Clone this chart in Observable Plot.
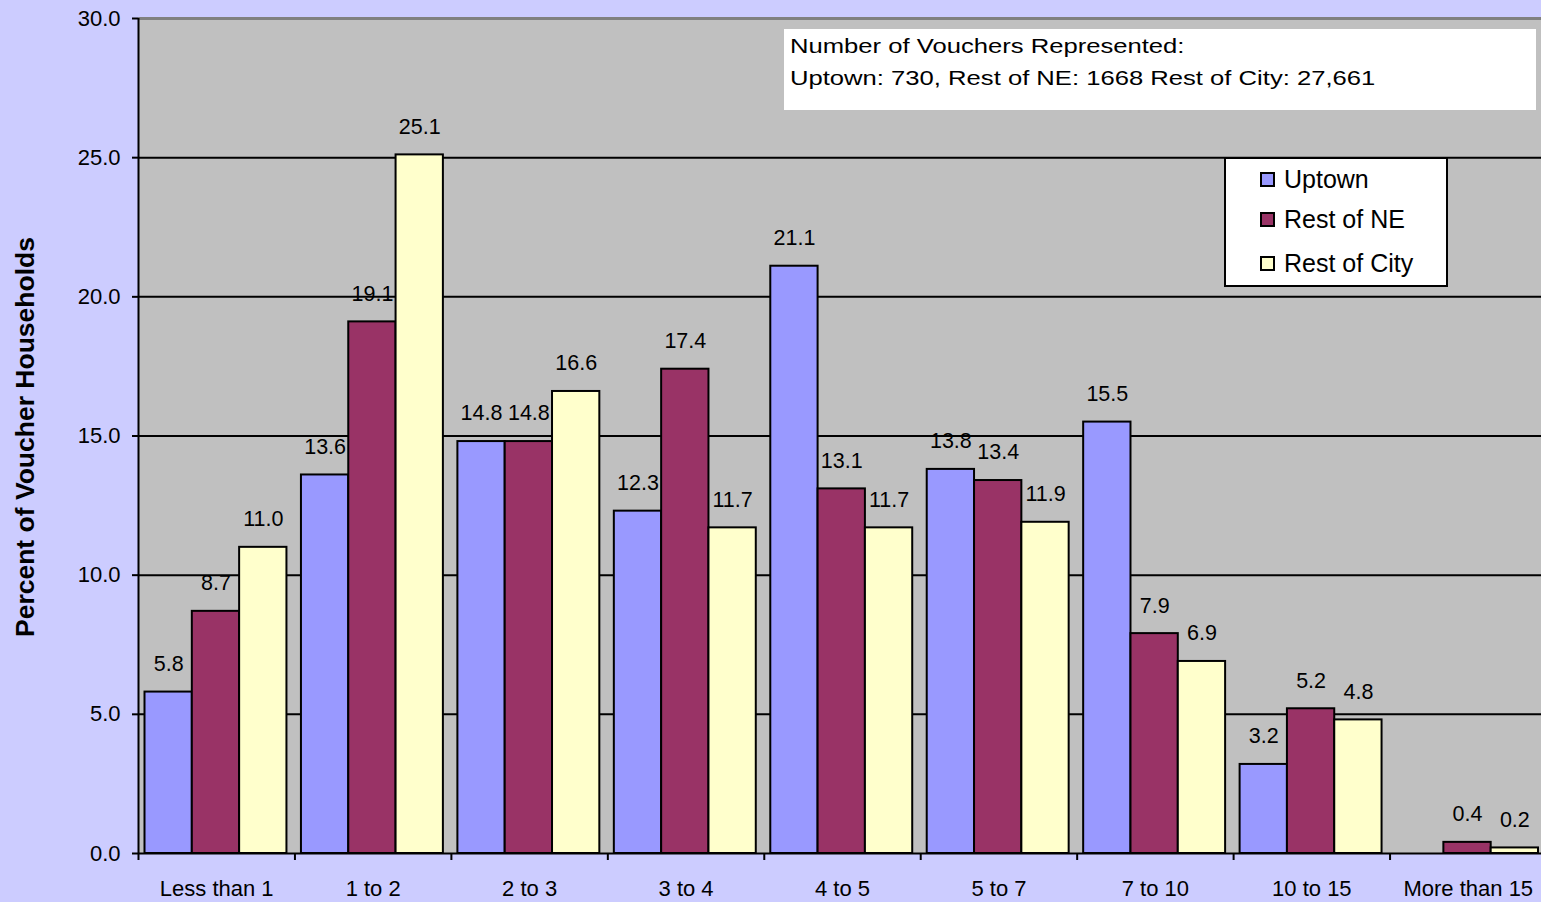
<!DOCTYPE html>
<html>
<head>
<meta charset="utf-8">
<script src="https://cdn.jsdelivr.net/npm/d3@7"></script>
<script src="https://cdn.jsdelivr.net/npm/@observablehq/plot@0.6"></script>
<style>
  html, body { margin: 0; padding: 0; background: #CCCCFF; overflow: hidden; }
  #wrap { position: relative; width: 1541px; height: 902px; overflow: hidden; font-family: "Liberation Sans", Arial, sans-serif; color: #000; }
  #wrap svg { max-width: none !important; display: block; }
  #note { position: absolute; left: 784px; top: 29px; width: 752px; height: 81px; background: #fff; }
  #note div { position: absolute; left: 6px; font-size: 21px; white-space: nowrap; transform: scaleX(1.22); transform-origin: left center; }
  #legend { position: absolute; left: 1224px; top: 157px; width: 220px; height: 126px; background: #fff; border: 2px solid #000; }
  .row { position: absolute; left: 34px; height: 30px; display: flex; align-items: center; font-size: 25px; white-space: nowrap; }
  .sw { width: 11px; height: 11px; border: 2px solid #000; margin-right: 9px; }
  #ytitle { position: absolute; left: 25px; top: 437px; transform: translate(-50%, -50%) rotate(-90deg); font-size: 26.5px; font-weight: bold; white-space: nowrap; }
</style>
</head>
<body>
<div id="wrap"></div>
<script>
// ---- data ----
const categories = ["Less than 1", "1 to 2", "2 to 3", "3 to 4", "4 to 5", "5 to 7", "7 to 10", "10 to 15", "More than 15"];
const series = ["Uptown", "Rest of NE", "Rest of City"];
const uptown = [5.8, 13.6, 14.8, 12.3, 21.1, 13.8, 15.5, 3.2, 0];
const restOfNE = [8.7, 19.1, 14.8, 17.4, 13.1, 13.4, 7.9, 5.2, 0.4];
const restOfCity = [11.0, 25.1, 16.6, 11.7, 11.7, 11.9, 6.9, 4.8, 0.2];
const colors = ["#9999FF", "#993366", "#FFFFCC"];
const yTicks = [0, 5, 10, 15, 20, 25, 30];
const yTitle = "Percent of Voucher Households";
const noteLines = ["Number of Vouchers Represented:", "Uptown: 730, Rest of NE: 1668 Rest of City: 27,661"];

const valuesBySeries = [uptown, restOfNE, restOfCity];
const rows = series.flatMap((s, k) => categories.map((c, i) => ({series: s, k, cat: c, value: valuesBySeries[k][i]})));

// ---- layout ----
// the plot area runs a few pixels past the right edge of the window, as in the original
const W = 1546, H = 902, mL = 138, mR = 0, mT = 18, mB = 49;
const step = (W - mL - mR) / categories.length;
const pad = 6.5;
const bw = (step - 2 * pad - 1.5) / 3;

const barMarks = series.flatMap((s, k) => {
  const d = rows.filter(r => r.k === k && r.value > 0);
  return [
    Plot.barY(d, {
      x: "cat", y: "value", fill: colors[k], stroke: "#000", strokeWidth: 2,
      insetLeft: pad + k * bw, insetRight: step - pad - (k + 1) * bw
    }),
    Plot.text(d, {
      x: "cat", y: "value", text: r => r.value.toFixed(1),
      dx: -step / 2 + pad + (k + 0.5) * bw, dy: -28, fontSize: 21.5, fill: "#000"
    })
  ];
});

const chart = Plot.plot({
  width: W, height: H,
  marginLeft: mL, marginRight: mR, marginTop: mT, marginBottom: mB,
  style: {background: "#CCCCFF", color: "#000", fontFamily: "'Liberation Sans', Arial, sans-serif", overflow: "visible", maxWidth: "none"},
  x: {type: "band", domain: categories, padding: 0, round: false},
  y: {domain: [0, 30]},
  marks: [
    Plot.frame({fill: "#C0C0C0", stroke: null}),
    Plot.ruleY(yTicks.filter(t => t > 0 && t < 30), {stroke: "#000", strokeWidth: 2}),
    Plot.ruleY([30], {stroke: "#808080", strokeWidth: 3}),
    Plot.axisY({ticks: yTicks, tickFormat: d => d.toFixed(1), tickSize: 6, tickPadding: 12, fontSize: 22, label: null, strokeWidth: 2}),
    Plot.axisX({tickSize: 7, tickFormat: () => "", dx: -step / 2, label: null, strokeWidth: 2}),
    Plot.axisX({tickSize: 0, tickPadding: 27, fontSize: 22, label: null}),
    ...barMarks,
    Plot.ruleY([0], {stroke: "#000", strokeWidth: 2}),
    Plot.ruleX([categories[0]], {dx: -step / 2, stroke: "#000", strokeWidth: 2})
  ]
});

const wrap = document.getElementById("wrap");
wrap.appendChild(chart);

// y-axis title
const yt = document.createElement("div");
yt.id = "ytitle";
yt.textContent = yTitle;
wrap.appendChild(yt);

// annotation box
const note = document.createElement("div");
note.id = "note";
noteLines.forEach((t, i) => {
  const d = document.createElement("div");
  d.textContent = t;
  d.style.top = (i === 0 ? 5 : 37) + "px";
  note.appendChild(d);
});
wrap.appendChild(note);

// legend
const legend = document.createElement("div");
legend.id = "legend";
const rowTops = [5, 45, 89];
series.forEach((s, k) => {
  const r = document.createElement("div");
  r.className = "row";
  r.style.top = rowTops[k] + "px";
  const sw = document.createElement("span");
  sw.className = "sw";
  sw.style.background = colors[k];
  r.appendChild(sw);
  r.appendChild(document.createTextNode(s));
  legend.appendChild(r);
});
wrap.appendChild(legend);
</script>
</body>
</html>
